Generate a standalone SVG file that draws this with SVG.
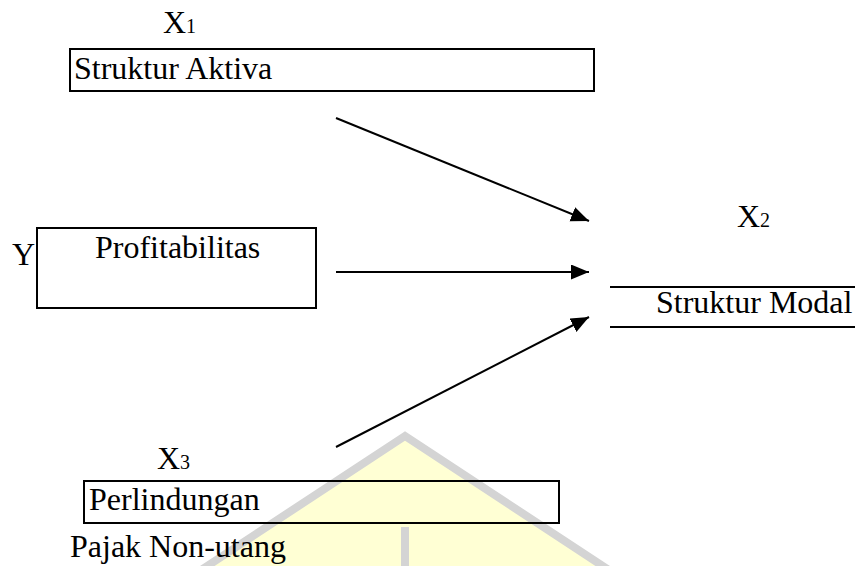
<svg xmlns="http://www.w3.org/2000/svg" width="855" height="566" viewBox="0 0 855 566">
  <style>
    text { font-family: "Liberation Serif", "Times New Roman", serif; font-size: 32px; fill: #000; }
    .sub { font-size: 20px; }
    .box { fill: none; stroke: #000; stroke-width: 2; }
    .conn { stroke: #000; stroke-width: 2; fill: none; marker-end: url(#arrow); }
  </style>
  <defs>
    <marker id="arrow" markerUnits="userSpaceOnUse" markerWidth="20" markerHeight="16" refX="18" refY="7.5" orient="auto">
      <path d="M0,0 L18,7.5 L0,15 Z" fill="#000"/>
    </marker>
  </defs>
  <rect width="855" height="566" fill="#fff"/>

  <g id="watermark">
    <polygon points="405,436 186,580 624,580" fill="#ffffd4" stroke="#d4d4d4" stroke-width="8" stroke-linejoin="miter"/>
    <line x1="405" y1="527" x2="405" y2="566" stroke="#d4d4d4" stroke-width="8"/>
  </g>

  <g id="connectors">
    <line class="conn" x1="336" y1="118" x2="589" y2="221"/>
    <line class="conn" x1="336" y1="272" x2="589" y2="272"/>
    <line class="conn" x1="336" y1="447" x2="589" y2="317"/>
  </g>

  <g id="x1">
    <text x="163" y="33">X<tspan class="sub">1</tspan></text>
    <rect class="box" x="70" y="49" width="524" height="42"/>
    <text x="74" y="79">Struktur Aktiva</text>
  </g>

  <g id="y">
    <text x="12" y="265">Y</text>
    <rect class="box" x="37" y="228" width="279" height="80"/>
    <text x="95" y="258">Profitabilitas</text>
  </g>

  <g id="x2">
    <text x="737" y="227">X<tspan class="sub">2</tspan></text>
    <line x1="610" y1="287" x2="855" y2="287" stroke="#000" stroke-width="2"/>
    <text x="656" y="313">Struktur Modal</text>
    <line x1="610" y1="327" x2="855" y2="327" stroke="#000" stroke-width="2"/>
  </g>

  <g id="x3">
    <text x="157" y="469">X<tspan class="sub">3</tspan></text>
    <rect class="box" x="84" y="481" width="475" height="42"/>
    <text x="89" y="510">Perlindungan</text>
    <text x="70" y="557">Pajak Non-utang</text>
  </g>
</svg>
